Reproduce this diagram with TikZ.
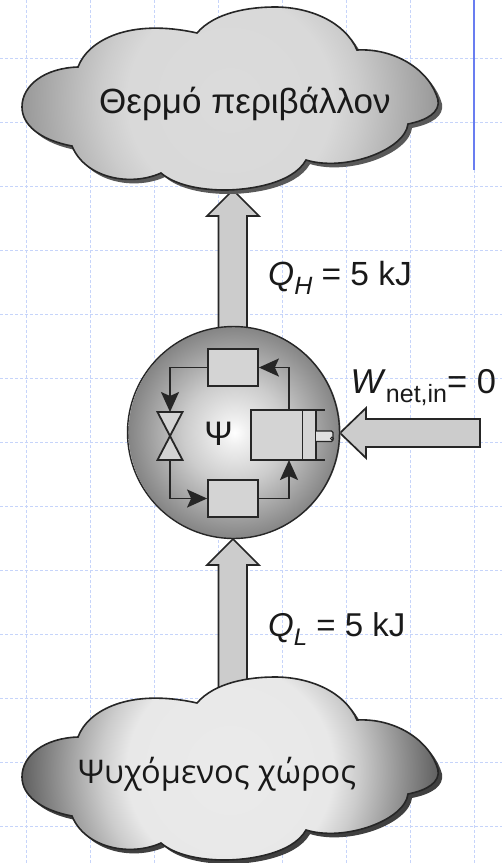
\documentclass[tikz,border=0pt]{standalone}
\usepackage{fontspec}
\setmainfont{Liberation Sans}
\newfontfamily\coldfont{Open Sans}
\usetikzlibrary{arrows.meta,calc}
\definecolor{gridblue}{RGB}{198,212,250}
\definecolor{barblue}{RGB}{105,125,240}
\pgfdeclareradialshading{hotcloud}{\pgfpointorigin}{
  color(0bp)=(black!14); color(12bp)=(black!15); color(15bp)=(black!20); color(25bp)=(black!42); color(50bp)=(black!42)}
\pgfdeclareradialshading{coldcloud}{\pgfpointorigin}{
  color(0bp)=(black!8); color(12bp)=(black!9); color(15bp)=(black!20); color(25bp)=(black!66); color(50bp)=(black!66)}
\pgfdeclareradialshading{ballshade}{\pgfpointorigin}{
  color(0bp)=(white); color(3bp)=(black!6); color(12bp)=(black!20); color(25bp)=(black!48); color(50bp)=(black!48)}
\def\cloudpath{(197,33) .. controls (215,12) and (250,7) .. (275,7)
  .. controls (310,7) and (345,22) .. (357,50)
  .. controls (395,48) and (430,70) .. (438,100)
  .. controls (440,112) and (428,120) .. (408,124)
  .. controls (405,150) and (345,172) .. (306,160)
  .. controls (292,185) and (245,190) .. (225,190)
  .. controls (200,190) and (175,185) .. (161,173)
  .. controls (130,187) and (85,178) .. (72,146)
  .. controls (40,140) and (22,125) .. (22,107)
  .. controls (22,85) and (45,68) .. (78,67)
  .. controls (88,40) and (130,18) .. (197,33) -- cycle}
\tikzset{
  gridline/.style={gridblue,densely dashed,line width=0.9pt},
  cloudline/.style={draw=black!85,line width=1.6pt},
  blockarrow/.style={fill=black!20,draw=black!85,line width=1.7pt,line join=miter},
  partbox/.style={draw=black!85,fill=black!17,line width=1.8pt,minimum width=50pt,minimum height=37pt,inner sep=0pt},
  cycleflow/.style={draw=black!85,line width=1.8pt,-{Stealth[length=20pt,width=18pt,inset=4pt,black!85]}},
  partline/.style={draw=black!85,line width=1.8pt},
  bigtext/.style={font=\fontsize{33.5}{33}\selectfont,inner sep=0pt,anchor=base west,text=black!90},
}
\newcommand{\subsc}[2][25]{\raisebox{-8.5pt}{\fontsize{#1}{#1}\selectfont #2}}
\begin{document}
\begin{tikzpicture}[x=1pt,y=-1pt]
\useasboundingbox (0,0) rectangle (502,863);
\fill[white] (0,0) rectangle (502,863);
% background grid
\foreach \gx in {26,90,154,218,282,346,410,474}
  \draw[gridline] (\gx,0) -- (\gx,863);
\foreach \gy in {58,122,186,250,314,378,442,506,570,634,698,762,826}
  \draw[gridline] (0,\gy) -- (502,\gy);
\draw[barblue,line width=2pt] (474,0) -- (474,170);
% block arrows
\draw[blockarrow] (218.5,330) -- (218.5,216) -- (207,216) -- (233,190) -- (259,216) -- (247,216) -- (247,330);
\draw[blockarrow] (218.5,695) -- (218.5,565) -- (207,565) -- (233,539) -- (259,565) -- (247,565) -- (247,695);
\draw[blockarrow] (480,419) -- (366,419) -- (366,408) -- (340,433) -- (366,458) -- (366,447) -- (480,447) -- cycle;
% hot cloud
\fill[black!65,shift={(4,4)}] \cloudpath;
\begin{scope}
  \clip \cloudpath;
  \shade[shading=hotcloud] (230,100) circle (215);
\end{scope}
\draw[cloudline] \cloudpath;
\node[bigtext,font=\fontsize{35}{35}\selectfont] (hot) at (99,113) {Θερμό περιβάλλον};
% cold cloud
\begin{scope}[shift={(0,670)}]
  \fill[black!75,shift={(4,4)}] \cloudpath;
  \begin{scope}
    \clip \cloudpath;
    \shade[shading=coldcloud] (230,100) circle (215);
  \end{scope}
  \draw[cloudline] \cloudpath;
\end{scope}
\node[bigtext,font=\fontsize{32.6}{33}\coldfont] (cold) at (78,783) {Ψυχόμενος χώρος};
% ball
\shade[shading=ballshade] (234.5,432.5) circle (106);
\node[circle,draw=black!85,line width=1.4pt,minimum size=212pt,inner sep=0pt] (ball) at (233.5,432.5) {};
% parts
\node[partbox] (cond) at (233,367.5) {};
\node[partbox] (evap) at (233,498.5) {};
\node[partbox,minimum width=52.5pt,minimum height=50pt] (comp) at (277,435) {};
\fill[black!17] (303.2,410) rectangle (316,460);
\draw[partline] (303.2,410) -- (325,410) (303.2,460) -- (325,460) (316,410) -- (316,460);
\draw[partline,fill=black!12,line width=1.2pt,rounded corners=1.5pt] (316,431) -- (333,431) -- (333,441.5) -- (316,441.5);
\draw[black!85,line width=0.8pt] (332,438.5) circle (1.5);
% valve
\coordinate (vtop) at (170,412);
\coordinate (vbot) at (170,460);
\draw[partline,fill=black!17,line join=miter] (157.5,412) -- (182.5,412) -- (157.5,460) -- (182.5,460) -- cycle;
\node[inner sep=0pt,font=\fontsize{34}{34}\selectfont,text=black!90] (psi) at (218.5,434) {Ψ};
% refrigerant loop
\coordinate (compin) at (289,460);
\coordinate (compout) at (289,410);
\draw[cycleflow] (cond.west) -| (vtop);
\draw[cycleflow] (vbot) |- (evap.west);
\draw[cycleflow] (evap.east) -| (compin);
\draw[cycleflow] (compout) |- (cond.east);
% labels
\node[bigtext] (qh) at (268,285.5) {\textit{Q}\subsc{\textit{H}} = 5 kJ};
\node[bigtext,font=\fontsize{34.5}{35}\selectfont] (wn) at (350.5,393.5) {\textit{W}\subsc[25]{net,in}= 0};
\node[bigtext,font=\fontsize{33}{33}\selectfont] (ql) at (268,636.5) {\textit{Q}\subsc[24]{\textit{L}} = 5 kJ};
\end{tikzpicture}
\end{document}
